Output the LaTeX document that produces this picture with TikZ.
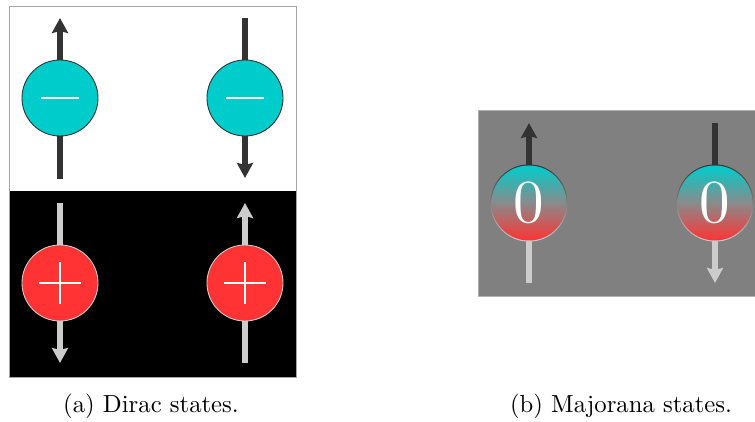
\documentclass[tikz,border=0pt]{standalone}
\usetikzlibrary{arrows.meta,backgrounds}
\definecolor{cyanball}{HTML}{00CCCC}
\definecolor{redball}{HTML}{FF3333}
\definecolor{darkarrow}{HTML}{333333}
\definecolor{lightarrow}{HTML}{CCCCCC}
\definecolor{panelgray}{HTML}{808080}
\definecolor{midgray}{HTML}{8A8A8A}
\tikzset{
  ball/.style={circle, minimum size=76pt, inner sep=0pt, line width=0.9pt},
  minusball/.style={ball, fill=cyanball, draw=darkarrow,
    path picture={\draw[white, line width=2.6pt]
      ([xshift=-19pt]path picture bounding box.center) -- ([xshift=19pt]path picture bounding box.center);}},
  plusball/.style={ball, fill=redball, draw=lightarrow,
    path picture={\draw[white, line width=2.6pt]
      ([xshift=-21pt]path picture bounding box.center) -- ([xshift=21pt]path picture bounding box.center)
      ([yshift=-21pt]path picture bounding box.center) -- ([yshift=21pt]path picture bounding box.center);}},
  zeroball/.style={circle, minimum size=75pt, inner sep=0pt, top color=cyanball, bottom color=redball,
    middle color=midgray, text=white},
  darkspin/.style={draw=darkarrow, line width=6pt},
  lightspin/.style={draw=lightarrow, line width=6pt},
  darktip/.style={darkspin, -{Stealth[width=16pt,length=15pt,inset=2pt]}},
  lighttip/.style={lightspin, -{Stealth[width=16pt,length=15pt,inset=2pt]}},
  caption/.style={anchor=base, inner sep=0pt}
}
\begin{document}
\begin{tikzpicture}[x=1pt,y=-1pt]
\useasboundingbox (0,0) rectangle (755,422);
% Dirac states
\node[minusball] (a1) at (60,98) {};
\node[minusball] (a2) at (245,98) {};
\node[plusball] (b1) at (60,283) {};
\node[plusball] (b2) at (245,283) {};
\coordinate (a1t) at (60,18);  \coordinate (a1b) at (60,179);
\coordinate (a2t) at (245,18); \coordinate (a2b) at (245,178);
\coordinate (b1t) at (60,203); \coordinate (b1b) at (60,363);
\coordinate (b2t) at (245,203); \coordinate (b2b) at (245,363);
% Majorana states
\node[zeroball] (z1) at (529,203) {\scalebox{6.1}{0}};
\node[zeroball] (z2) at (715,203) {\scalebox{6.1}{0}};
\coordinate (z1t) at (529,123); \coordinate (z1b) at (529,283);
\coordinate (z2t) at (715,123); \coordinate (z2b) at (715,283);
\begin{scope}[on background layer]
  \fill[white] (9,6) rectangle (296,191);
  \fill[black] (9,191) rectangle (296,377);
  \draw[gray!70, line width=0.8pt] (9,6) rectangle (296,377);
  \draw[darktip] (a1.center) -- (a1t);
  \draw[darkspin] (a1.center) -- (a1b);
  \draw[darkspin] (a2.center) -- (a2t);
  \draw[darktip] (a2.center) -- (a2b);
  \draw[lightspin] (b1.center) -- (b1t);
  \draw[lighttip] (b1.center) -- (b1b);
  \draw[lighttip] (b2.center) -- (b2t);
  \draw[lightspin] (b2.center) -- (b2b);
  \fill[panelgray] (478,110) rectangle (770,296);
  \draw[gray!60, line width=0.8pt] (770,110) -- (478,110) -- (478,296) -- (770,296);
  \draw[darktip] (z1.center) -- (z1t);
  \draw[lightspin] (z1.center) -- (z1b);
  \draw[darkspin] (z2.center) -- (z2t);
  \draw[lighttip] (z2.center) -- (z2b);
  \shade[top color=darkarrow, bottom color=lightarrow] (z1.center) circle[radius=38.6pt];
  \shade[top color=darkarrow, bottom color=lightarrow] (z2.center) circle[radius=38.6pt];
\end{scope}
\node[caption] (capa) at (151,412.5) {\scalebox{2.47}{(a) Dirac states.}};
\node[caption] (capb) at (621,412.5) {\scalebox{2.47}{(b) Majorana states.}};
\end{tikzpicture}
\end{document}
